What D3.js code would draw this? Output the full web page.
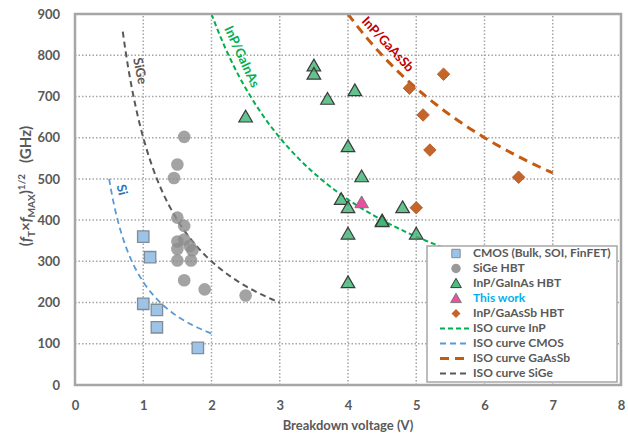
<!DOCTYPE html>
<meta charset="utf-8">
<style>
  body { margin: 0; background: #fff; }
  svg text { font-family: Lato, "Open Sans", sans-serif; font-weight: bold; fill: #595959; }
</style>
<div id="chart"></div>
<script src="https://cdn.jsdelivr.net/npm/d3@7"></script>
<script>

// --- data ---
var cmosV = [1.0, 1.1, 1.0, 1.2, 1.2, 1.8];
var cmosF = [360, 310, 197, 182, 140, 90];

var sigeV = [1.6, 1.5, 1.45, 1.5, 1.6, 1.5, 1.6, 1.5, 1.68, 1.72, 1.5, 1.7, 1.6, 1.9, 2.5];
var sigeF = [602, 535, 502, 406, 386, 348, 353, 330, 337, 327, 302, 302, 254, 232, 217];

var inpV = [2.5, 3.5, 3.5, 3.7, 4.1, 4.0, 4.2, 3.9, 4.0, 4.8, 4.5, 4.5, 4.0, 5.0, 4.0];
var inpF = [650, 774, 754, 693, 714, 578, 505, 450, 430, 430, 398, 396, 366, 366, 248];

var thisV = [4.2];
var thisF = [442];

var gasbV = [5.4, 4.9, 5.1, 5.2, 6.5, 5.0];
var gasbF = [754, 720, 655, 570, 504, 430];

// ISO curves: f = C / V
var isoNames = ["ISO curve InP", "ISO curve CMOS", "ISO curve GaAsSb", "ISO curve SiGe"];
var isoC     = [1800, 250, 3600, 600];
var isoFrom  = [2, 0.5, 4, 0.7];
var isoTo    = [6, 2, 7, 3];

var xTicks = [0, 1, 2, 3, 4, 5, 6, 7, 8];
var yTicks = [0, 100, 200, 300, 400, 500, 600, 700, 800, 900];

var W = 628, H = 433;

var svg = d3.select("#chart").append("svg")
    .attr("width", W).attr("height", H);

var x = d3.scaleLinear().domain([0, 8]).range([75, 621]);
var y = d3.scaleLinear().domain([0, 900]).range([385, 14]);

// grid
var grid = svg.append("g");
grid.selectAll(".gx").data(xTicks.slice(1, -1)).enter().append("line")
    .attr("x1", d => x(d)).attr("x2", d => x(d))
    .attr("y1", y(0)).attr("y2", y(900))
    .attr("stroke", "#a6a6a6").attr("stroke-width", 1.5).attr("stroke-dasharray", "1.5,2");
grid.selectAll(".gy").data(yTicks.slice(1, -1)).enter().append("line")
    .attr("x1", x(0)).attr("x2", x(8))
    .attr("y1", d => y(d)).attr("y2", d => y(d))
    .attr("stroke", "#a6a6a6").attr("stroke-width", 1.5).attr("stroke-dasharray", "1.5,2");

// tick labels via axes (domain/ticks hidden)
var xAxis = svg.append("g").attr("transform", "translate(0," + y(0) + ")")
    .call(d3.axisBottom(x).tickValues(xTicks).tickSize(0).tickPadding(16));
var yAxis = svg.append("g").attr("transform", "translate(" + x(0) + ",0)")
    .call(d3.axisLeft(y).tickValues(yTicks).tickSize(0).tickPadding(15));
[xAxis, yAxis].forEach(function (a) {
  a.select(".domain").remove();
  a.selectAll("text").attr("font-size", 13).attr("font-family", null);
});

// ISO curves
var isoColor = ["#00b050", "#5b9bd5", "#c55a11", "#595959"];
var isoWidth = [2, 1.8, 3, 2];
var isoDash  = ["5,3", "6,4", "9,6", "6,4"];
var line = d3.line().x(d => x(d[0])).y(d => y(d[1]));
isoC.forEach(function (c, i) {
  var pts = d3.range(0, 61).map(function (k) {
    var v = isoFrom[i] + (isoTo[i] - isoFrom[i]) * k / 60;
    return [v, c / v];
  });
  svg.append("path").datum(pts).attr("d", line)
      .attr("fill", "none").attr("stroke", isoColor[i])
      .attr("stroke-width", isoWidth[i]).attr("stroke-dasharray", isoDash[i]);
});

// markers
function zip(a, b) { return a.map((v, i) => [v, b[i]]); }

var sq = d3.symbol().type(d3.symbolSquare).size(130);
var ci = d3.symbol().type(d3.symbolCircle).size(125);
var tr = d3.symbol().type(d3.symbolTriangle).size(80);
var di = d3.symbol().type(d3.symbolSquare).size(78);

svg.append("g").selectAll("path").data(zip(sigeV, sigeF)).enter().append("path")
    .attr("d", ci).attr("transform", d => "translate(" + x(d[0]) + "," + y(d[1]) + ")")
    .attr("fill", "#8c8c8c").attr("fill-opacity", 0.8);

svg.append("g").selectAll("path").data(zip(cmosV, cmosF)).enter().append("path")
    .attr("d", sq).attr("transform", d => "translate(" + x(d[0]) + "," + y(d[1]) + ")")
    .attr("fill", "#9dc3e6").attr("stroke", "#7f8c9a").attr("stroke-width", 1.3);

svg.append("g").selectAll("path").data(zip(inpV, inpF)).enter().append("path")
    .attr("d", tr).attr("transform", d => "translate(" + x(d[0]) + "," + (y(d[1]) + 1) + ")")
    .attr("fill", "#3cb371").attr("fill-opacity", 0.8)
    .attr("stroke", "#3a3a3a").attr("stroke-width", 1.2);

svg.append("g").selectAll("path").data(zip(thisV, thisF)).enter().append("path")
    .attr("d", tr).attr("transform", d => "translate(" + x(d[0]) + "," + (y(d[1]) + 1) + ")")
    .attr("fill", "#ec4ea0").attr("stroke", "#7a7a7a").attr("stroke-width", 1);

svg.append("g").selectAll("path").data(zip(gasbV, gasbF)).enter().append("path")
    .attr("d", di).attr("transform", d => "translate(" + x(d[0]) + "," + y(d[1]) + ") rotate(45)")
    .attr("fill", "#c5652a").attr("stroke", "#b05a25").attr("stroke-width", 0.8);

// curve labels
function rotLabel(txt, cx, cy, ang, col) {
  svg.append("text").attr("transform", "translate(" + cx + "," + cy + ") rotate(" + ang + ")")
      .attr("text-anchor", "middle").attr("dominant-baseline", "middle")
      .attr("font-size", 13).style("fill", col).text(txt);
}
rotLabel("SiGe", 139, 71, 78, "#595959");
rotLabel("Si", 121, 190, 76, "#2e75b6");
rotLabel("InP/GaInAs", 241, 57, 65, "#00b050");
rotLabel("InP/GaAsSb", 387, 45, 47, "#c00000");

// plot border
svg.append("rect").attr("x", x(0)).attr("y", y(900))
    .attr("width", x(8) - x(0)).attr("height", y(0) - y(900))
    .attr("fill", "none").attr("stroke", "#a6a6a6").attr("stroke-width", 2.5);

// legend
var lg = svg.append("g");
lg.append("rect").attr("x", 427).attr("y", 246).attr("width", 190).attr("height", 136)
    .attr("fill", "#fff").attr("stroke", "#a6a6a6").attr("stroke-width", 1.5);

var legNames = ["CMOS (Bulk, SOI, FinFET)", "SiGe HBT", "InP/GaInAs HBT", "This work", "InP/GaAsSb HBT"];
var legSym = [
  {d: d3.symbol().type(d3.symbolSquare).size(70)(), fill: "#9dc3e6", stroke: "#7f8c9a", rot: 0},
  {d: d3.symbol().type(d3.symbolCircle).size(70)(), fill: "#999", stroke: "none", rot: 0},
  {d: d3.symbol().type(d3.symbolTriangle).size(50)(), fill: "#4dbd80", stroke: "#3a3a3a", rot: 0},
  {d: d3.symbol().type(d3.symbolTriangle).size(50)(), fill: "#ec4ea0", stroke: "#7a7a7a", rot: 0},
  {d: d3.symbol().type(d3.symbolSquare).size(40)(), fill: "#c5652a", stroke: "none", rot: 45}
];
legNames.forEach(function (n, i) {
  var yy = 253.5 + i * 15;
  lg.append("path").attr("d", legSym[i].d)
      .attr("transform", "translate(456," + (yy + (i == 2 || i == 3 ? 1 : 0)) + ") rotate(" + legSym[i].rot + ")")
      .attr("fill", legSym[i].fill).attr("stroke", legSym[i].stroke).attr("stroke-width", 1);
  lg.append("text").attr("x", 473).attr("y", yy).attr("dominant-baseline", "middle")
      .attr("font-size", 12).style("fill", i == 3 ? "#00b0f0" : "#595959").text(n);
});
isoNames.forEach(function (n, i) {
  var yy = 253.5 + (i + 5) * 15;
  lg.append("line").attr("x1", 440).attr("x2", 470).attr("y1", yy).attr("y2", yy)
      .attr("stroke", isoColor[i]).attr("stroke-width", isoWidth[i]).attr("stroke-dasharray", isoDash[i]);
  lg.append("text").attr("x", 473).attr("y", yy).attr("dominant-baseline", "middle")
      .attr("font-size", 12).style("fill", "#595959").text(n);
});

// axis titles
svg.append("text").attr("x", 348).attr("y", 430).attr("text-anchor", "middle")
    .attr("font-size", 13).text("Breakdown voltage (V)");

var yt = svg.append("text").attr("transform", "translate(31,186) rotate(-90)")
    .attr("text-anchor", "middle").attr("font-size", 15);
yt.append("tspan").text("(");
yt.append("tspan").attr("font-style", "italic").text("f");
yt.append("tspan").attr("font-size", 10).attr("dy", 4).text("T");
yt.append("tspan").attr("dy", -4).text("×");
yt.append("tspan").attr("font-style", "italic").text("f");
yt.append("tspan").attr("font-size", 10).attr("dy", 4).text("MAX");
yt.append("tspan").attr("dy", -4).text(")");
yt.append("tspan").attr("font-size", 10).attr("dy", -6).text("1/2");
yt.append("tspan").attr("dy", 6).text("\u00a0\u00a0\u00a0(GHz)");

</script>
